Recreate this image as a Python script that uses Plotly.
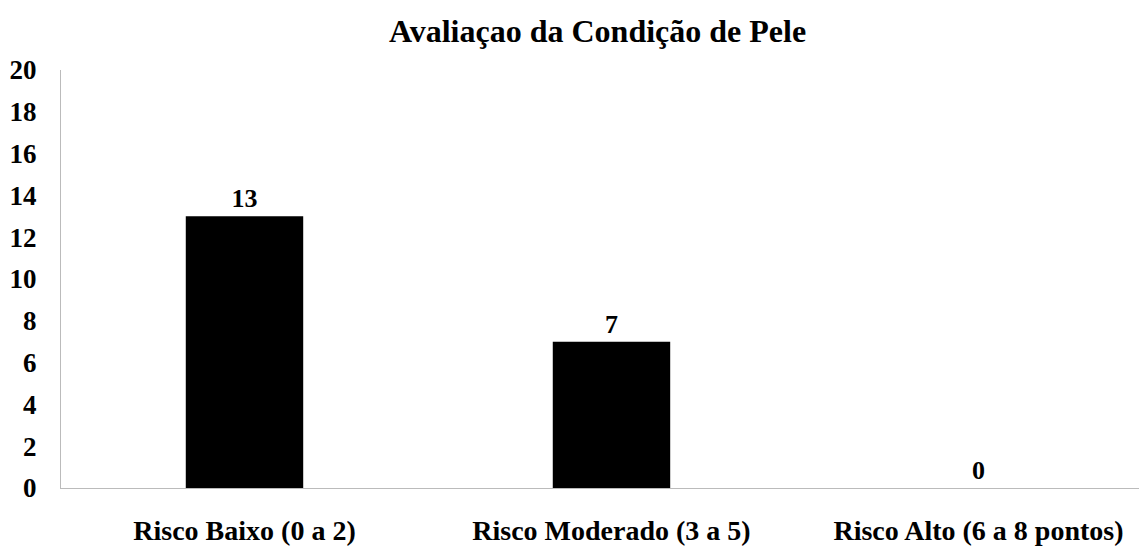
import plotly.graph_objects as go

categories = ["Risco Baixo (0 a 2)", "Risco Moderado (3 a 5)", "Risco Alto (6 a 8 pontos)"]
values = [13, 7, 0]
tick_vals = [0, 2, 4, 6, 8, 10, 12, 14, 16, 18, 20]

font_family = "Liberation Serif"

fig = go.Figure(
    go.Bar(
        x=categories,
        y=values,
        marker=dict(color="black", line=dict(width=0)),
        width=0.32,
        text=[str(v) for v in values],
        textposition="outside",
        textfont=dict(family=font_family, size=26, color="black", weight="bold"),
        cliponaxis=False,
    )
)

fig.update_layout(
    width=1147,
    height=559,
    paper_bgcolor="white",
    plot_bgcolor="white",
    margin=dict(l=53, r=0, t=62, b=79, autoexpand=False),
    showlegend=False,
    title=dict(
        text="Avaliaçao da Condição de Pele",
        x=0.514,
        xanchor="center",
        y=1 - 23 / 559,
        yanchor="middle",
        font=dict(family=font_family, size=32, color="black", weight="bold"),
    ),
    font=dict(family=font_family, color="black"),
)

fig.update_xaxes(
    range=[-0.5, 2.481],
    showline=True,
    linecolor="#bbbbbb",
    linewidth=1,
    showgrid=False,
    ticks="",
    automargin=False,
    tickfont=dict(family=font_family, size=28, color="black", weight="bold"),
    ticklabelstandoff=17,
)

fig.update_yaxes(
    range=[0, 20],
    tickvals=tick_vals,
    showline=True,
    linecolor="#bbbbbb",
    linewidth=1,
    showgrid=False,
    zeroline=False,
    ticks="",
    automargin=False,
    tickfont=dict(family=font_family, size=27, color="black", weight="bold"),
    ticklabelstandoff=18,
)

fig.write_html("out.html")
